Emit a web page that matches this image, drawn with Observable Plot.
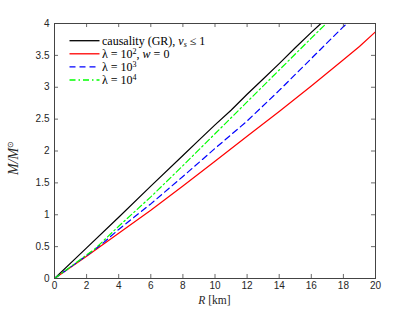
<!DOCTYPE html>
<html><head><meta charset="utf-8">
<script src="https://cdn.jsdelivr.net/npm/d3@7"></script>
<script src="https://cdn.jsdelivr.net/npm/@observablehq/plot@0.6"></script>
<style>body{margin:0;background:#fff}</style>
</head><body><div id="chart"></div>
<script>
const xTicks = [0, 2, 4, 6, 8, 10, 12, 14, 16, 18, 20];
const yTicks = [0, 0.5, 1, 1.5, 2, 2.5, 3, 3.5, 4];

const causalR = [0, 2, 4, 6, 8, 9, 10, 11, 12, 13, 14, 15, 16, 16.6];
const causalM = [0, 0.48, 0.96, 1.45, 1.93, 2.17, 2.41, 2.64, 2.89, 3.13, 3.37, 3.62, 3.86, 4.0];

const lam2R = [0, 2, 4, 6, 8, 10, 12, 14, 16, 18, 19, 20];
const lam2M = [0, 0.35, 0.71, 1.07, 1.45, 1.84, 2.23, 2.62, 3.02, 3.43, 3.64, 3.87];

const lam3R = [0, 2, 3, 4, 6, 8, 10, 12, 14, 16, 18, 18.22];
const lam3M = [0, 0.36, 0.55, 0.77, 1.17, 1.60, 2.04, 2.47, 2.95, 3.45, 3.95, 4.0];

const lam4R = [0, 2, 2.5, 4, 6, 8, 10, 12, 14, 16, 16.93];
const lam4M = [0, 0.37, 0.46, 0.82, 1.28, 1.77, 2.27, 2.77, 3.27, 3.77, 4.0];

const series = [
  {R: causalR, M: causalM, color: "#000000", dash: null},
  {R: lam2R, M: lam2M, color: "#ff0000", dash: null},
  {R: lam3R, M: lam3M, color: "#0000ff", dash: "6,4"},
  {R: lam4R, M: lam4M, color: "#00ff00", dash: "6,3,1.5,3"}
];

const tickLenX = 0.25, tickLenY = 0.063;

const lineMarks = series.map(s => Plot.line(s.R.map((r, i) => ({R: r, M: s.M[i]})), {
  x: "R", y: "M", stroke: s.color, strokeWidth: 1.2, strokeDasharray: s.dash, clip: true
}));

const plot = Plot.plot({
  width: 415, height: 312,
  marginLeft: 54, marginRight: 40, marginTop: 23, marginBottom: 34,
  x: {domain: [0, 20]},
  y: {domain: [0, 4]},
  style: {fontFamily: "'Liberation Sans', Arial, sans-serif", fontSize: "10px", color: "#262626", background: "white"},
  marks: [
    ...lineMarks,
    Plot.ruleX(xTicks, {x: d => d, y1: 0, y2: tickLenY, stroke: "#444", strokeWidth: 0.8}),
    Plot.ruleX(xTicks, {x: d => d, y1: 4, y2: 4 - tickLenY, stroke: "#444", strokeWidth: 0.8}),
    Plot.ruleY(yTicks, {y: d => d, x1: 0, x2: tickLenX, stroke: "#444", strokeWidth: 0.8}),
    Plot.ruleY(yTicks, {y: d => d, x1: 20, x2: 20 - tickLenX, stroke: "#444", strokeWidth: 0.8}),
    Plot.frame({stroke: "#444", strokeWidth: 1}),
    Plot.axisX({ticks: xTicks, tickSize: 0, tickPadding: 3, label: null, tickFormat: d => String(d)}),
    Plot.axisY({ticks: yTicks, tickSize: 0, tickPadding: 5, label: null, tickFormat: d => String(d)})
  ]
});

document.getElementById("chart").appendChild(plot);
const svg = d3.select(plot);
const serif = "'Liberation Serif', 'Times New Roman', serif";

// x label
const xl = svg.append("text").attr("x", 214.5).attr("y", 304)
  .attr("text-anchor", "middle").attr("font-family", serif).attr("font-size", 11.5).attr("fill", "#262626");
xl.append("tspan").attr("font-style", "italic").text("R");
xl.append("tspan").text(" [km]");

// y label
const yl = svg.append("text").attr("transform", "translate(18,158) rotate(-90)")
  .attr("text-anchor", "middle").attr("font-family", serif).attr("font-size", 14).attr("fill", "#262626");
yl.append("tspan").attr("font-style", "italic").text("M/M");
yl.append("tspan").attr("font-size", 8).attr("dy", -5).text("⊙");

// legend
const legendRows = [
  {color: "#000000", dash: null, parts: [["causality (GR), ", null], ["v", "i"], ["s", "sub"], [" ≤ 1", "after"]]},
  {color: "#ff0000", dash: null, parts: [["λ = 10", null], ["2", "sup"], [", ", "after"], ["w", "i"], [" = 0", null]]},
  {color: "#0000ff", dash: "6,4", parts: [["λ = 10", null], ["3", "sup"]]},
  {color: "#00ff00", dash: "6,3,1.5,3", parts: [["λ = 10", null], ["4", "sup"]]}
];
const ly0 = 40.7, ldy = 13.1;
legendRows.forEach((row, i) => {
  const y = ly0 + i * ldy;
  svg.append("line").attr("x1", 69.5).attr("x2", 99.5).attr("y1", y).attr("y2", y)
    .attr("stroke", row.color).attr("stroke-width", 1.3).attr("stroke-dasharray", row.dash);
  const t = svg.append("text").attr("x", 102).attr("y", y).attr("dy", "0.35em")
    .attr("text-anchor", "start")
    .attr("font-family", serif).attr("font-size", 12).attr("fill", "#000");
  let shift = 0;
  row.parts.forEach(([s, kind]) => {
    const ts = t.append("tspan").text(s);
    if (kind === "i") ts.attr("font-style", "italic");
    if (kind === "sub") { ts.attr("font-size", 8).attr("font-style", "italic").attr("dy", 2); shift = 2; }
    else if (kind === "sup") { ts.attr("font-size", 8).attr("dy", -4); shift = -4; }
    else if (shift !== 0) { ts.attr("dy", -shift); shift = 0; }
  });
});
</script>
</body></html>
